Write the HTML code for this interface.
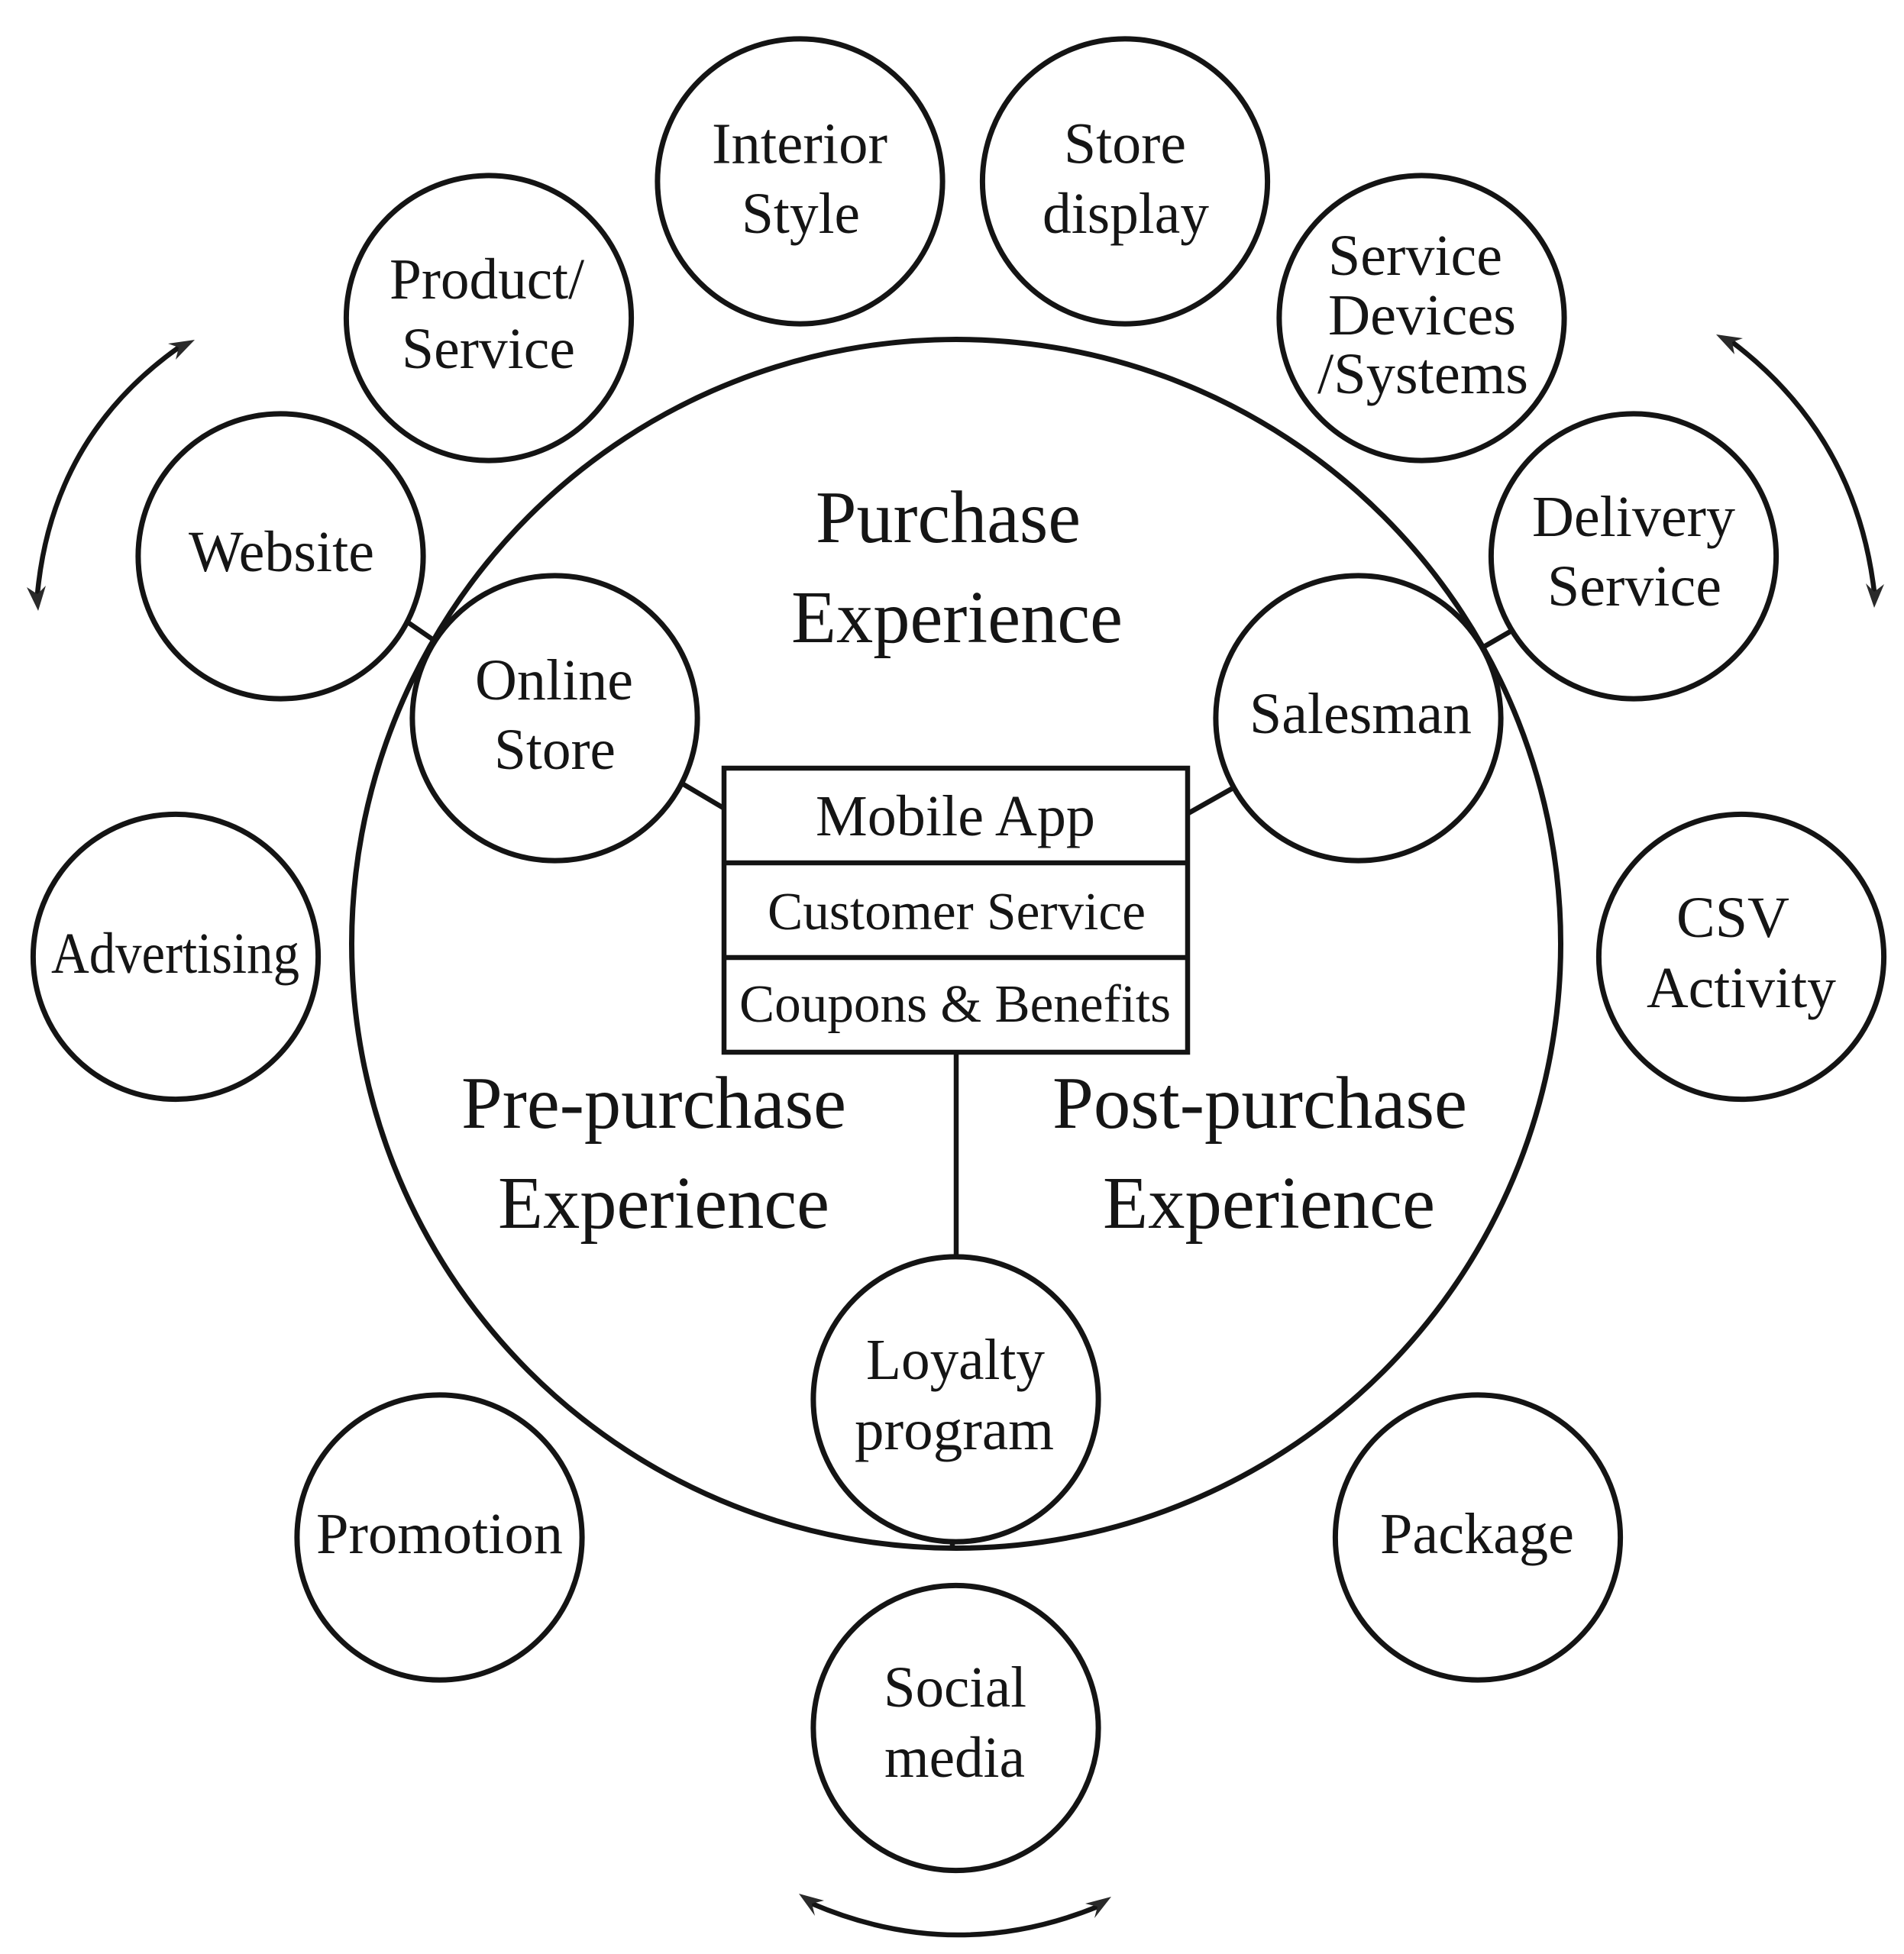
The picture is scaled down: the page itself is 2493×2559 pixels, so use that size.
<!DOCTYPE html>
<html><head><meta charset="utf-8"><style>
html,body{margin:0;padding:0;background:#fff}
svg{display:block}
text{font-family:"Liberation Serif",serif;fill:#151515;font-size:76px}
.b{font-size:97px}
.m{font-size:70px}
circle{fill:none;stroke:#141414;stroke-width:7}
line,path{stroke:#141414;stroke-width:6.5;fill:none}
polygon{fill:#2a2a2a}
</style></head><body>
<svg xmlns="http://www.w3.org/2000/svg" width="2493" height="2559" viewBox="0 0 2493 2559">
<rect width="2493" height="2559" fill="#fff"/>
<circle cx="1252" cy="1236" r="791.5"/>
<circle cx="1047.5" cy="237.5" r="186.6"/>
<circle cx="1473" cy="237.5" r="186.6"/>
<circle cx="1861.5" cy="416.5" r="186.6"/>
<circle cx="640" cy="416.5" r="186.6"/>
<circle cx="367.5" cy="728.5" r="186.6"/>
<circle cx="2139" cy="728.5" r="186.6"/>
<circle cx="726.5" cy="940.5" r="186.6"/>
<circle cx="1778.5" cy="940.5" r="186.6"/>
<circle cx="230" cy="1253" r="186.6"/>
<circle cx="2280" cy="1253" r="186.6"/>
<circle cx="1251.5" cy="1832.5" r="186.6"/>
<circle cx="575.5" cy="2013.5" r="186.6"/>
<circle cx="1935" cy="2013.5" r="186.6"/>
<circle cx="1251.5" cy="2263" r="186.6"/>
<rect x="948" y="1006" width="607" height="372" fill="#fff" stroke="#141414" stroke-width="6.5"/>
<line x1="948" y1="1130" x2="1555" y2="1130" stroke-width="6.5"/>
<line x1="948" y1="1254" x2="1555" y2="1254" stroke-width="6.5"/>
<line x1="534" y1="815" x2="566" y2="837"/>
<line x1="893" y1="1026" x2="947" y2="1058"/>
<line x1="1556" y1="1065" x2="1618" y2="1030"/>
<line x1="1943" y1="847" x2="1981" y2="825"/>
<line x1="1252" y1="1380" x2="1252" y2="1645"/>
<line x1="1247" y1="2017" x2="1247" y2="2029" stroke-width="7"/>
<path d="M234 455Q68 573 49 778"/>
<polygon points="255,445 220,450 234,455 230,471"/>
<polygon points="50,800 35,769 49,778 60,767"/>
<path d="M2268 448Q2430 571 2454 775"/>
<polygon points="2247,438 2282,443 2268,448 2271,464"/>
<polygon points="2454,796 2443,764 2454,775 2467,765"/>
<path d="M1063 2493Q1250 2573 1437 2497"/>
<polygon points="1046,2480 1079,2489 1063,2493 1067,2509"/>
<polygon points="1455,2484 1421,2493 1437,2497 1433,2512"/>
<text x="932" y="213.5" textLength="230" lengthAdjust="spacingAndGlyphs">Interior</text>
<text x="971" y="305" textLength="155" lengthAdjust="spacingAndGlyphs">Style</text>
<text x="1393" y="213.5" textLength="160" lengthAdjust="spacingAndGlyphs">Store</text>
<text x="1365" y="305" textLength="218" lengthAdjust="spacingAndGlyphs">display</text>
<text x="1739" y="360" textLength="228" lengthAdjust="spacingAndGlyphs">Service</text>
<text x="1739" y="438" textLength="246" lengthAdjust="spacingAndGlyphs">Devices</text>
<text x="1725" y="515" textLength="276" lengthAdjust="spacingAndGlyphs">/Systems</text>
<text x="510" y="391" textLength="255" lengthAdjust="spacingAndGlyphs">Product/</text>
<text x="526" y="482" textLength="227" lengthAdjust="spacingAndGlyphs">Service</text>
<text x="247" y="748" textLength="243" lengthAdjust="spacingAndGlyphs">Website</text>
<text x="2006" y="702" textLength="266" lengthAdjust="spacingAndGlyphs">Delivery</text>
<text x="2026" y="793" textLength="228" lengthAdjust="spacingAndGlyphs">Service</text>
<text x="622" y="916" textLength="207" lengthAdjust="spacingAndGlyphs">Online</text>
<text x="647" y="1007" textLength="159" lengthAdjust="spacingAndGlyphs">Store</text>
<text x="1636" y="960" textLength="291" lengthAdjust="spacingAndGlyphs">Salesman</text>
<text x="67" y="1274" textLength="325" lengthAdjust="spacingAndGlyphs">Advertising</text>
<text x="2195" y="1227" textLength="148" lengthAdjust="spacingAndGlyphs">CSV</text>
<text x="2156" y="1319" textLength="248" lengthAdjust="spacingAndGlyphs">Activity</text>
<text x="1134" y="1806" textLength="234" lengthAdjust="spacingAndGlyphs">Loyalty</text>
<text x="1119" y="1898" textLength="261" lengthAdjust="spacingAndGlyphs">program</text>
<text x="414" y="2034" textLength="323" lengthAdjust="spacingAndGlyphs">Promotion</text>
<text x="1807" y="2034" textLength="254" lengthAdjust="spacingAndGlyphs">Package</text>
<text x="1157" y="2235" textLength="187" lengthAdjust="spacingAndGlyphs">Social</text>
<text x="1158" y="2327" textLength="184" lengthAdjust="spacingAndGlyphs">media</text>
<text x="1068" y="1094" textLength="366" lengthAdjust="spacingAndGlyphs">Mobile App</text>
<text class="m" x="1005" y="1217" textLength="495" lengthAdjust="spacingAndGlyphs">Customer Service</text>
<text class="m" x="968" y="1338" textLength="565" lengthAdjust="spacingAndGlyphs">Coupons &amp; Benefits</text>
<text class="b" x="1068" y="710" textLength="347" lengthAdjust="spacingAndGlyphs">Purchase</text>
<text class="b" x="1036" y="841" textLength="434" lengthAdjust="spacingAndGlyphs">Experience</text>
<text class="b" x="604" y="1477" textLength="504" lengthAdjust="spacingAndGlyphs">Pre-purchase</text>
<text class="b" x="652" y="1608" textLength="434" lengthAdjust="spacingAndGlyphs">Experience</text>
<text class="b" x="1378" y="1477" textLength="543" lengthAdjust="spacingAndGlyphs">Post-purchase</text>
<text class="b" x="1444" y="1608" textLength="435" lengthAdjust="spacingAndGlyphs">Experience</text>
</svg>
</body></html>
